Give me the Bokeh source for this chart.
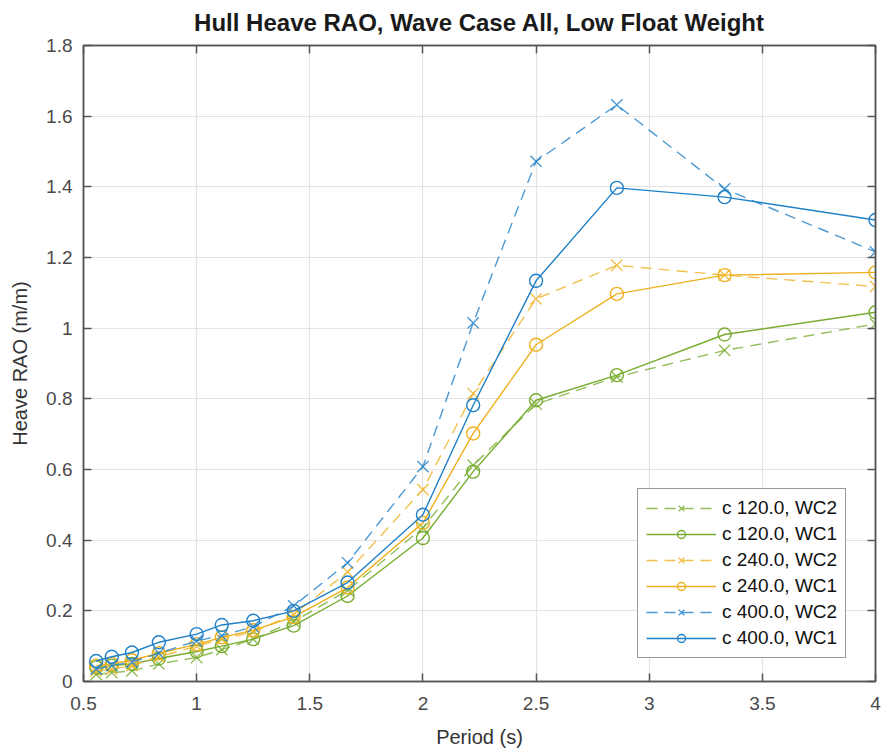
from bokeh.plotting import figure
from bokeh.models import Range1d, FixedTicker, LinearAxis, Legend, LegendItem, CustomLabelingPolicy
from bokeh.embed import file_html
from bokeh.resources import INLINE

# ---- data ----
period = [0.556, 0.625, 0.714, 0.833, 1.0, 1.111, 1.25, 1.429, 1.667, 2.0, 2.222, 2.5, 2.857, 3.333, 4.0]

c120_wc2 = [0.020, 0.025, 0.030, 0.050, 0.068, 0.090, 0.120, 0.170, 0.258, 0.435, 0.612, 0.785, 0.862, 0.937, 1.012]
c120_wc1 = [0.040, 0.045, 0.050, 0.065, 0.085, 0.100, 0.120, 0.158, 0.242, 0.406, 0.594, 0.796, 0.867, 0.982, 1.045]
c240_wc2 = [0.030, 0.035, 0.045, 0.070, 0.100, 0.120, 0.140, 0.190, 0.310, 0.543, 0.815, 1.083, 1.178, 1.150, 1.118]
c240_wc1 = [0.045, 0.050, 0.060, 0.080, 0.105, 0.125, 0.145, 0.183, 0.266, 0.449, 0.702, 0.953, 1.097, 1.150, 1.158]
c400_wc2 = [0.035, 0.045, 0.055, 0.080, 0.115, 0.130, 0.155, 0.214, 0.336, 0.608, 1.015, 1.472, 1.632, 1.394, 1.216]
c400_wc1 = [0.058, 0.070, 0.082, 0.111, 0.134, 0.160, 0.172, 0.200, 0.280, 0.472, 0.782, 1.134, 1.397, 1.371, 1.306]

series_labels = ["c 120.0, WC2", "c 120.0, WC1", "c 240.0, WC2", "c 240.0, WC1", "c 400.0, WC2", "c 400.0, WC1"]
series_values = [c120_wc2, c120_wc1, c240_wc2, c240_wc1, c400_wc2, c400_wc1]

x_ticks = [0.5, 1.0, 1.5, 2.0, 2.5, 3.0, 3.5, 4.0]
x_tick_labels = ["0.5", "1", "1.5", "2", "2.5", "3", "3.5", "4"]
y_ticks = [0.0, 0.2, 0.4, 0.6, 0.8, 1.0, 1.2, 1.4, 1.6, 1.8]
y_tick_labels = ["0", "0.2", "0.4", "0.6", "0.8", "1", "1.2", "1.4", "1.6", "1.8"]

title_text = "Hull Heave RAO, Wave Case All, Low Float Weight"
x_label = "Period (s)"
y_label = "Heave RAO (m/m)"

# ---- styling ----
colors = ["#77AC30", "#77AC30", "#EDB120", "#EDB120", "#1F80C8", "#1F80C8"]
dashed = [True, False, True, False, True, False]
FONT = "Liberation Sans"
AXC = "#555555"

p = figure(width=882, height=753,
           x_range=Range1d(0.5, 4.0), y_range=Range1d(0.0, 1.8),
           output_backend="svg", toolbar_location=None,
           min_border_left=83, min_border_right=7,
           min_border_top=42, min_border_bottom=72)

p.background_fill_color = "white"
p.border_fill_color = "white"
p.outline_line_color = AXC
p.outline_line_width = 1.5

p.title.text = title_text
p.title.align = "center"
p.title.text_font = FONT
p.title.text_font_size = "24px"
p.title.text_font_style = "bold"
p.title.text_color = "#1a1a1a"
p.title.standoff = 12

no_labels = CustomLabelingPolicy(code="return new Set()")

def style_axis(ax, ticks, labels, show_labels=True, standoff=11):
    ax.ticker = FixedTicker(ticks=ticks)
    ax.major_tick_in = 8
    ax.major_tick_out = 0
    ax.minor_tick_in = 0
    ax.minor_tick_out = 0
    ax.major_tick_line_color = AXC
    ax.major_tick_line_width = 1.5
    ax.axis_line_color = AXC
    ax.axis_line_width = 1.5
    ax.major_label_text_font = FONT
    ax.major_label_text_color = "#4a4a4a"
    if show_labels:
        ax.major_label_overrides = {t: l for t, l in zip(ticks, labels)}
        ax.major_label_text_font_size = "19px"
        ax.major_label_standoff = standoff
    else:
        ax.major_label_policy = no_labels
        ax.major_label_text_font_size = "1px"
        ax.major_label_standoff = 0

style_axis(p.xaxis[0], x_ticks, x_tick_labels, standoff=15)
style_axis(p.yaxis[0], y_ticks, y_tick_labels, standoff=11)

p.xaxis.axis_label = x_label
p.yaxis.axis_label = y_label
for ax in (p.xaxis[0], p.yaxis[0]):
    ax.axis_label_text_font = FONT
    ax.axis_label_text_font_size = "20px"
    ax.axis_label_text_font_style = "normal"
    ax.axis_label_text_color = "#333333"
p.xaxis[0].axis_label_standoff = 13
p.yaxis[0].axis_label_standoff = 12

top_ax = LinearAxis()
style_axis(top_ax, x_ticks, x_tick_labels, show_labels=False)
p.add_layout(top_ax, "above")
right_ax = LinearAxis()
style_axis(right_ax, y_ticks, y_tick_labels, show_labels=False)
p.add_layout(right_ax, "right")

p.xgrid.grid_line_color = "#e3e3e3"
p.ygrid.grid_line_color = "#e3e3e3"
p.xgrid.grid_line_width = 1.2
p.ygrid.grid_line_width = 1.2

items = []
for lab, vals, col, dsh in zip(series_labels, series_values, colors, dashed):
    alpha = 0.8 if dsh else 1.0
    lr = p.line(period, vals, line_color=col, line_width=1.4, line_alpha=alpha,
                line_dash="11 7" if dsh else "solid")
    sr = p.scatter(period, vals, marker="x" if dsh else "circle", size=16 if dsh else 13,
                   line_color=col, line_width=1.4, line_alpha=alpha,
                   fill_color=None)
    items.append(LegendItem(label=lab, renderers=[lr, sr]))

legend = Legend(items=items, location=(554, 23))
legend.label_text_font = FONT
legend.label_text_font_size = "19px"
legend.label_text_color = "#111111"
legend.glyph_width = 70
legend.glyph_height = 20
legend.label_height = 20
legend.spacing = 4
legend.padding = 8
legend.margin = 0
legend.label_standoff = 6
legend.border_line_color = "#333333"
legend.border_line_width = 1
legend.background_fill_color = "white"
legend.background_fill_alpha = 1.0
p.add_layout(legend)

open("out.html", "w").write(file_html(p, INLINE))
